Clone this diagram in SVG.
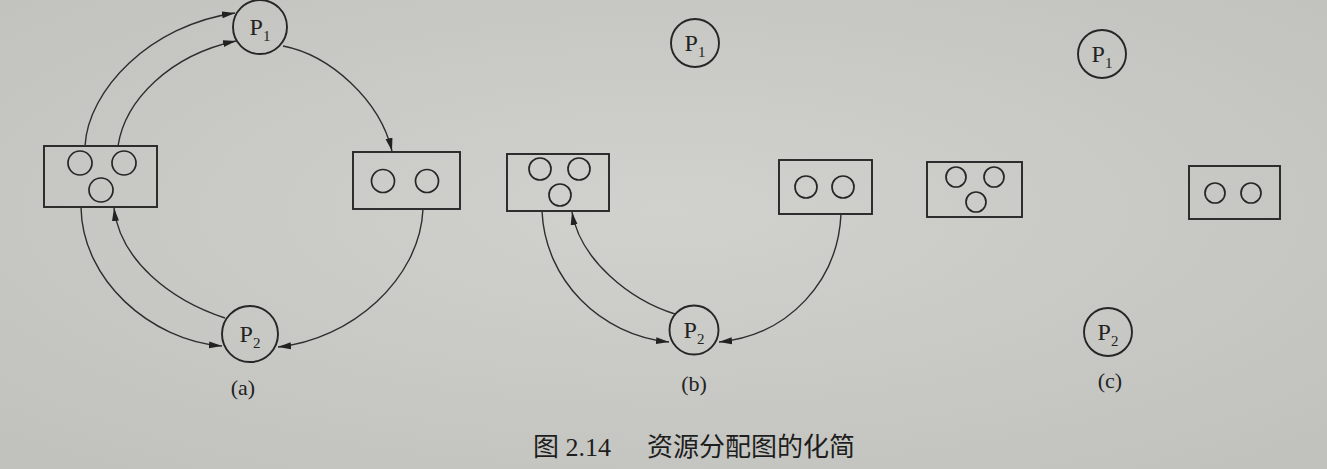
<svg xmlns="http://www.w3.org/2000/svg" width="1327" height="469" viewBox="0 0 1327 469">
<defs>
<radialGradient id="bg" cx="0.5" cy="0.45" r="0.75">
<stop offset="0" stop-color="#d1d2cd"/>
<stop offset="1" stop-color="#c0c1bc"/>
</radialGradient>
<marker id="ah" markerWidth="14" markerHeight="8" refX="13" refY="4" orient="auto" markerUnits="userSpaceOnUse">
<path d="M0,0.5 L13,4 L0,7.5 z" fill="#222"/>
</marker>
</defs>
<style>
.box{fill:none;stroke:#262626;stroke-width:1.9}
.res{fill:none;stroke:#262626;stroke-width:1.7}
.proc{fill:none;stroke:#262626;stroke-width:1.9}
.edge{fill:none;stroke:#2e2e2e;stroke-width:1.4;marker-end:url(#ah)}
.pl{font-family:"Liberation Serif",serif;font-size:24px;fill:#222;text-anchor:middle}
.sub{font-size:15px}
.lab{font-family:"Liberation Serif",serif;font-size:22px;fill:#222;text-anchor:middle}
.cap{font-family:"Liberation Serif","Noto Sans CJK SC",serif;font-size:26px;fill:#1e1e1e}
</style>
<rect width="1327" height="469" fill="url(#bg)"/>

<!-- (a) -->
<g id="a-P1"><circle class="proc" cx="260" cy="27" r="27"/><text class="pl" x="260" y="35">P<tspan class="sub" dy="6">1</tspan></text></g>
<g id="a-P2"><circle class="proc" cx="250" cy="334" r="28"/><text class="pl" x="250" y="342">P<tspan class="sub" dy="6">2</tspan></text></g>
<g id="a-R1"><rect class="box" x="44" y="146" width="113" height="61"/><circle class="res" cx="80" cy="163" r="12"/><circle class="res" cx="124" cy="163" r="12"/><circle class="res" cx="101" cy="190" r="12"/></g>
<g id="a-R2"><rect class="box" x="353" y="152" width="107" height="57"/><circle class="res" cx="383" cy="181" r="11.5"/><circle class="res" cx="427" cy="181" r="11.5"/></g>
<text class="lab" x="243" y="395">(a)</text>

<!-- (b) -->
<g id="b-P1"><circle class="proc" cx="695" cy="43" r="24"/><text class="pl" x="695" y="51">P<tspan class="sub" dy="6">1</tspan></text></g>
<g id="b-P2"><circle class="proc" cx="694" cy="330" r="24.5"/><text class="pl" x="694" y="338">P<tspan class="sub" dy="6">2</tspan></text></g>
<g id="b-R1"><rect class="box" x="507" y="154" width="102" height="57"/><circle class="res" cx="540" cy="169" r="11"/><circle class="res" cx="579" cy="169" r="11"/><circle class="res" cx="560" cy="195" r="11"/></g>
<g id="b-R2"><rect class="box" x="779" y="160" width="93" height="54"/><circle class="res" cx="806" cy="187" r="11"/><circle class="res" cx="843" cy="187" r="11"/></g>
<text class="lab" x="694" y="391">(b)</text>

<!-- (c) -->
<g id="c-P1"><circle class="proc" cx="1102" cy="54" r="24"/><text class="pl" x="1102" y="62">P<tspan class="sub" dy="6">1</tspan></text></g>
<g id="c-P2"><circle class="proc" cx="1108" cy="332" r="24"/><text class="pl" x="1108" y="340">P<tspan class="sub" dy="6">2</tspan></text></g>
<g id="c-R1"><rect class="box" x="927" y="162" width="95" height="55"/><circle class="res" cx="956" cy="177" r="10"/><circle class="res" cx="994" cy="177" r="10"/><circle class="res" cx="976" cy="202" r="10"/></g>
<g id="c-R2"><rect class="box" x="1189" y="166" width="91" height="53"/><circle class="res" cx="1215" cy="193" r="10"/><circle class="res" cx="1251" cy="193" r="10"/></g>
<text class="lab" x="1110" y="388">(c)</text>

<g id="connectors">
<path class="edge" d="M85,146 C88,90 150,25 235,13"/>
<path class="edge" d="M118,146 C125,100 170,55 236,41"/>
<path class="edge" d="M283,46 C330,55 380,100 392,151"/>
<path class="edge" d="M423,209 C420,280 350,340 278,347"/>
<path class="edge" d="M81,207 C82,280 150,340 222,346"/>
<path class="edge" d="M225,318 C170,300 120,260 114,208"/>
<path class="edge" d="M542,211 C545,280 600,335 669,342"/>
<path class="edge" d="M675,314 C630,300 580,260 572,212"/>
<path class="edge" d="M841,214 C838,280 790,335 719,342"/>
</g>

<text class="cap" y="456"><tspan x="533">图 2.14</tspan><tspan x="647">资源分配图的化简</tspan></text>
</svg>
